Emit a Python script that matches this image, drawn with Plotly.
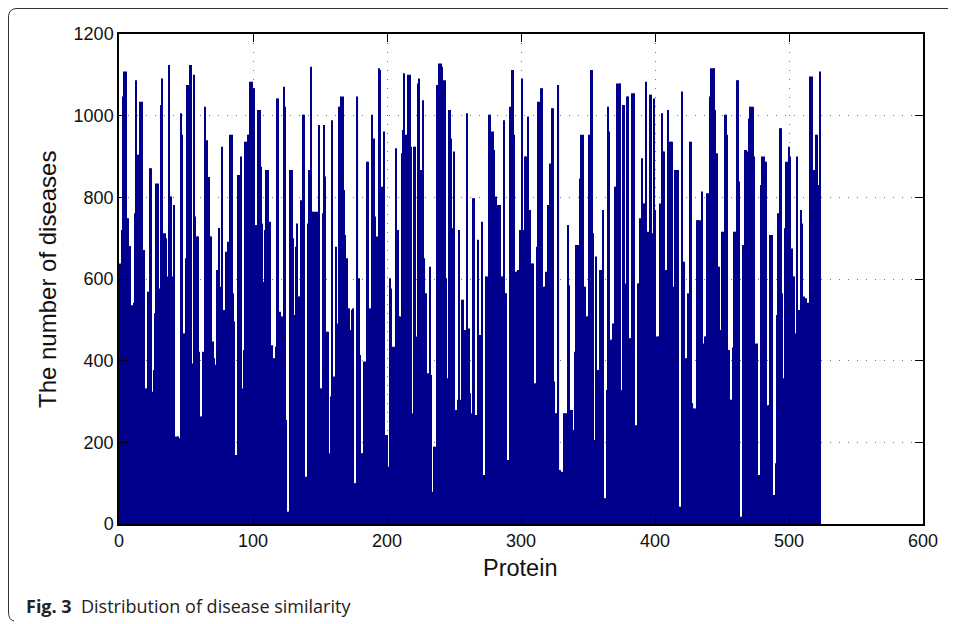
import plotly.graph_objects as go

# Bar heights, grouped by horizontal stretch of the chart
seg1 = [638,720,1047,1108,1108, 749,749,681,536,536, 542,761,1087,904,904, 1034,1034,671,671,
        332,332,569,871,871, 324,377,516,834,834, 577,1026,1091,712,712, 700,606,1124,802,802,
        606,781,214,214,214, 210,1006,953,467,467, 651,1075,1075,1124,1124, 393,1100,753,704,704,
        422,263,263,422,1022]
seg2 = [900,940,850,704,704, 447,406,390,622,622, 725,581,924,524,524, 667,691,650,953,953,
        565,496,169,169,855,855, 900,332,426,936,936, 953,953,1083,1083,1067,1067, 732,545,1014,1014,875,
        736,593,720,867,867, 716,740,438,406,406, 434,1042,1042,520,508,508, 1071,1022,255,30,30,
        867,867,700]
seg3 = [512,679,736,557,557, 793,1002,1002,116,116, 736,867,1120,765,765,765, 418,765,977,332,332,
        761,977,851,471,471, 173,312,989,361,361, 679,491,1022,1022,1047,1047, 818,708,651,528,528,
        475,524,528,100,100, 1047,602,414,173,173, 398,398,887,887,528,528, 1002,944,753,704,704,
        1116,1112]
seg4 = [826,704,961,218,218, 140,602,577,434,434, 349,920,720,508,508, 908,965,1104,953,953,
        1100,1100,924,271,924,924, 459,1079,1091,867,867, 1038,651,565,369,369, 630,365,79,189,189,
        1075,802,1128,1128,1120, 1087,1087,602,357,1014,1014, 944,724,912,279,279, 304,720,304,549,549,
        475,475,1006,479]
seg5 = [320,271,798,798,267,267, 696,463,463,740,120,120, 606,606,1002,1002,961,961, 916,802,781,781,781,
        606,606,989,565,565, 157,157,1022,1112,1112,953, 618,618,622,720,720, 1091,720,900,900,998,
        606,769,638,638,345,345, 679,1034,1034,1067,1067, 581,581,618,781,781,883, 1018,1018,349,271,271]
seg6 = [1075,132,128,128,271,271, 271,732,585,279,279, 230,422,683,683,683, 846,953,953,581,581,
        508,508,953,1112,1112, 712,206,655,377,377, 622,622,769,63,63, 328,1022,961,451,451,
        491,826,826,1079,1079,1079, 328,1026,1026, 589,1047,1047,455,455, 1055,1055,242,242,589,589,
        749,896,785,785]
seg7 = [1083,516,716,1051,1051, 712,1042,769,459,459, 459,785,1006,912,912, 622,622,1014,936,936,
        936,581,867,867,867, 42,42,1059,642,642, 406,406,565,936,936, 296,283,283,744,744,744,
        744,814,442,459,459, 810,810,1047,1116,1116, 1116,1014,908,630,630, 475,716,716,1002,1002,
        953,426,304,304]
seg8 = [432,716,716,1087,1087, 839,18,18,683,916,916, 912,993,1022,1022,1022, 900,442,442,120,120,
        830,900,900,887,887, 291,291,708,708,71,71, 149,512,761,969,969, 565,357,724,887,887,
        924,900,675,606,606, 467,900,524,524, 769,736,557,553,553, 542,467,1096,1096,867,
        867,953,953,830,1108]

values = seg1 + seg2 + seg3 + seg4 + seg5 + seg6 + seg7 + seg8
proteins = list(range(1, len(values) + 1))

x_ticks = [0, 100, 200, 300, 400, 500, 600]
y_ticks = [0, 200, 400, 600, 800, 1000, 1200]

fig = go.Figure(go.Bar(x=proteins, y=values, marker=dict(color="#00008C", line=dict(width=0)),
                       hoverinfo="x+y"))

OFF = 8  # page body margin
W, H = 956, 624
L, R, T, B = 119 - OFF, W - 923 + OFF, 34 - OFF, H - 524 + OFF
pw, ph = W - L - R, H - T - B
def px(x):
    return (x - OFF - L) / pw
def py(y):
    return (H - B - (y - OFF)) / ph

axis_common = dict(showline=True, linecolor="black", linewidth=1.5, mirror="allticks",
                   ticks="inside", ticklen=8, tickcolor="black", showgrid=True,
                   gridcolor="#777777", griddash="1px,8px", gridwidth=1.2, zeroline=False,
                   tickfont=dict(family="Liberation Sans, Arial", size=18, color="#111"))

fig.update_layout(
    width=W, height=H, plot_bgcolor="white", paper_bgcolor="white",
    margin=dict(l=L, r=R, t=T, b=B), bargap=0.2, showlegend=False,
    xaxis=dict(range=[0, 600], tickvals=x_ticks, **axis_common),
    yaxis=dict(range=[0, 1200], tickvals=y_ticks, **axis_common),
    annotations=[
        dict(text="Protein", x=px(520), y=py(568), xref="paper", yref="paper", showarrow=False,
             font=dict(family="Liberation Sans, Arial", size=23.5, color="#111"), xanchor="center", yanchor="middle"),
        dict(text="The number of diseases", x=px(47), y=py(280), xref="paper", yref="paper", showarrow=False,
             textangle=-90, font=dict(family="Liberation Sans, Arial", size=24, color="#111"),
             xanchor="center", yanchor="middle"),
        dict(text="<b>Fig. 3</b>  Distribution of disease similarity", x=px(24), y=py(606),
             xref="paper", yref="paper", showarrow=False, xanchor="left", yanchor="middle",
             font=dict(family="Open Sans", size=18, color="#222")),
    ],
    shapes=[
        dict(type="path", xref="paper", yref="paper",
             path=(f"M {px(960)},{py(8.5)} L {px(17)},{py(8.5)} Q {px(8.5)},{py(8.5)} {px(8.5)},{py(17)} "
                   f"L {px(8.5)},{py(612)} Q {px(8.5)},{py(620)} {px(14)},{py(621)}"),
             line=dict(color="#333", width=1)),
    ],
)

fig.write_html("out.html")
